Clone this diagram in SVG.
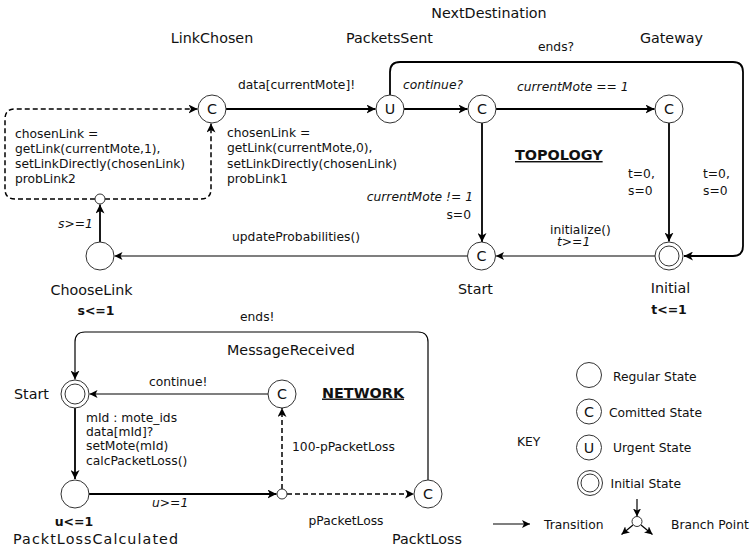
<svg xmlns="http://www.w3.org/2000/svg" width="751" height="551" viewBox="0 0 751 551">
<style>
text{font-family:"DejaVu Sans",Verdana,sans-serif;fill:#111}
.n{font-size:14.3px}
.l{font-size:12.3px}
.i{font-size:12.3px;font-style:italic}
.b{font-size:12.5px;font-weight:bold}
.t{font-size:14.4px;font-weight:bold;text-decoration:underline}
.st{fill:#fff;stroke:#333;stroke-width:1}
.e{fill:none;stroke:#000;stroke-width:1.8}
.e2{fill:none;stroke:#000;stroke-width:1.2}
.d{fill:none;stroke:#000;stroke-width:1.5;stroke-dasharray:5 3}
.c{font-size:14.3px;text-anchor:middle}
</style>
<defs>
<marker id="a" markerWidth="10" markerHeight="9" refX="9" refY="4.5" orient="auto" markerUnits="userSpaceOnUse"><path d="M0,0 L9,4.5 L0,9 L2.5,4.5 z" fill="#000"/></marker>
<marker id="s" markerWidth="9" markerHeight="8" refX="8" refY="4" orient="auto" markerUnits="userSpaceOnUse"><path d="M0,0 L8,4 L0,8 L2,4 z" fill="#000"/></marker>
</defs>

<g id="connectors">
<path class="e" d="M225.5,109 H375.5" marker-end="url(#a)"/>
<path class="e" d="M404,109 H467.5" marker-end="url(#a)"/>
<path class="e" d="M496,109 H654.5" marker-end="url(#a)"/>
<path class="e" d="M482,123 V242" marker-end="url(#a)"/>
<path class="e" d="M669,123 V241.5" marker-end="url(#a)"/>
<path class="e" d="M390,95 V72 Q390,62 400,62 H733 Q743,62 743,72 V246 Q743,256 733,256 H684" marker-end="url(#a)"/>
<path class="e2" d="M655,256 H496" marker-end="url(#s)"/>
<path class="e2" d="M467.5,256 H114.5" marker-end="url(#s)"/>
<path class="e" d="M100,242 V204.5" marker-end="url(#a)"/>
<path class="d" d="M95,199 H15 Q5,199 5,189 V119 Q5,109 15,109 H197.5" marker-end="url(#a)"/>
<path class="d" d="M105,199 H201 Q211,199 211,189 V123.5" marker-end="url(#a)"/>
<path class="e2" d="M428,480 V342 Q428,332 418,332 H85 Q75,332 75,342 V379.5" marker-end="url(#a)"/>
<path class="e2" d="M268,394 H89.5" marker-end="url(#s)"/>
<path class="e" d="M75,408 V479" marker-end="url(#a)"/>
<path class="e" d="M89,494 H276.5" marker-end="url(#a)"/>
<path class="d" d="M282,489 V408" marker-end="url(#a)"/>
<path class="d" d="M287,494 H414" marker-end="url(#a)"/>
<path class="e2" d="M493,524 H530" marker-end="url(#s)"/>
<path class="e2" d="M637,499 V516.5" marker-end="url(#s)"/>
<path class="e2" d="M633,525 L621.5,534.5" marker-end="url(#s)"/>
<path class="e2" d="M641,525 L652.5,534.5" marker-end="url(#s)"/>
</g>

<g id="LinkChosen">
<circle class="st" cx="212" cy="109" r="14"/>
<text class="c" x="212" y="114">C</text>
<text class="c" x="212" y="43">LinkChosen</text>
</g>
<g id="PacketsSent">
<circle class="st" cx="390" cy="109" r="14"/>
<text class="c" x="390" y="114">U</text>
<text class="c" x="389.5" y="43">PacketsSent</text>
</g>
<g id="NextDestination">
<circle class="st" cx="482" cy="109" r="14"/>
<text class="c" x="482" y="114">C</text>
<text class="c" x="489" y="17.5">NextDestination</text>
</g>
<g id="Gateway">
<circle class="st" cx="669" cy="109" r="14"/>
<text class="c" x="669" y="114">C</text>
<text class="c" x="671.5" y="43">Gateway</text>
</g>
<g id="TopStart">
<circle class="st" cx="481.5" cy="256" r="14"/>
<text class="c" x="481.5" y="261">C</text>
<text class="c" x="475.5" y="294">Start</text>
</g>
<g id="Initial">
<circle class="st" cx="669" cy="256" r="14"/>
<circle class="st" cx="669" cy="256" r="10"/>
<text class="c" x="670.5" y="292.5">Initial</text>
<text class="b" x="669" y="314" text-anchor="middle">t&lt;=1</text>
</g>
<g id="ChooseLink">
<circle class="st" cx="100" cy="256" r="14"/>
<text class="c" x="91.5" y="295">ChooseLink</text>
<text class="b" x="96" y="314.5" text-anchor="middle">s&lt;=1</text>
</g>
<g id="TopBranch">
<circle class="st" cx="100" cy="199" r="5"/>
</g>

<g id="topology-labels">
<text class="l" x="538" y="51">ends?</text>
<text class="l" x="238" y="89">data[currentMote]!</text>
<text class="i" x="403" y="89">continue?</text>
<text class="i" x="517" y="90.5">currentMote == 1</text>
<text class="l" x="15" y="137.5">chosenLink =</text>
<text class="l" x="15" y="152.5">getLink(currentMote,1),</text>
<text class="l" x="15" y="167.5">setLinkDirectly(chosenLink)</text>
<text class="l" x="15" y="183">probLink2</text>
<text class="l" x="227" y="136.5">chosenLink =</text>
<text class="l" x="227" y="152">getLink(currentMote,0),</text>
<text class="l" x="227" y="167.5">setLinkDirectly(chosenLink)</text>
<text class="l" x="227" y="183">probLink1</text>
<text class="i" x="473" y="200.5" text-anchor="end">currentMote != 1</text>
<text class="l" x="471" y="218.5" text-anchor="end">s=0</text>
<text class="t" x="515" y="160">TOPOLOGY</text>
<text class="l" x="628" y="178">t=0,</text>
<text class="l" x="628" y="194.5">s=0</text>
<text class="l" x="703" y="178">t=0,</text>
<text class="l" x="703" y="194.5">s=0</text>
<text class="l" x="550" y="233.5">initialize()</text>
<text class="i" x="557" y="246">t&gt;=1</text>
<text class="l" x="232" y="241">updateProbabilities()</text>
<text class="i" x="58" y="227.5">s&gt;=1</text>
</g>

<g id="NetStart">
<circle class="st" cx="75" cy="394" r="14"/>
<circle class="st" cx="75" cy="394" r="10"/>
<text class="n" x="14" y="399">Start</text>
</g>
<g id="MessageReceived">
<circle class="st" cx="282" cy="394" r="14"/>
<text class="c" x="282" y="399">C</text>
<text class="n" x="227" y="354.5">MessageReceived</text>
</g>
<g id="PacktLossCalculated">
<circle class="st" cx="75" cy="494" r="14"/>
<text class="b" x="74" y="526" text-anchor="middle">u&lt;=1</text>
<text class="n" x="13" y="543.5" textLength="165" lengthAdjust="spacing">PacktLossCalculated</text>
</g>
<g id="NetBranch">
<circle class="st" cx="282" cy="494" r="5"/>
</g>
<g id="PacktLoss">
<circle class="st" cx="428" cy="494" r="14"/>
<text class="c" x="428" y="499">C</text>
<text class="n" x="392" y="543.5">PacktLoss</text>
</g>

<g id="network-labels">
<text class="l" x="240" y="320.5">ends!</text>
<text class="l" x="149" y="386">continue!</text>
<text class="t" x="322" y="397.5">NETWORK</text>
<text class="l" x="86" y="422">mId : mote_ids</text>
<text class="l" x="86" y="436">data[mId]?</text>
<text class="l" x="86" y="450">setMote(mId)</text>
<text class="l" x="86" y="464.5">calcPacketLoss()</text>
<text class="l" x="292" y="450.5">100-pPacketLoss</text>
<text class="i" x="152" y="507">u&gt;=1</text>
<text class="l" x="308.5" y="524.5">pPacketLoss</text>
</g>

<g id="key">
<text class="l" x="517" y="446">KEY</text>
<circle class="st" cx="589" cy="375" r="12.5"/>
<text class="l" x="613" y="381">Regular State</text>
<circle class="st" cx="589" cy="411.5" r="12.5"/>
<text class="n" x="589" y="416.5" text-anchor="middle">C</text>
<text class="l" x="609" y="417">Comitted State</text>
<circle class="st" cx="589" cy="447.5" r="12.5"/>
<text class="n" x="589" y="452.5" text-anchor="middle">U</text>
<text class="l" x="613" y="452">Urgent State</text>
<circle class="st" cx="590" cy="483" r="12.5"/>
<circle class="st" cx="590" cy="483" r="9"/>
<text class="l" x="610.5" y="487.5">Initial State</text>
<circle class="st" cx="637" cy="521.5" r="5"/>
<text class="l" x="544" y="528.5">Transition</text>
<text class="l" x="671" y="528.5">Branch Point</text>
</g>
</svg>
